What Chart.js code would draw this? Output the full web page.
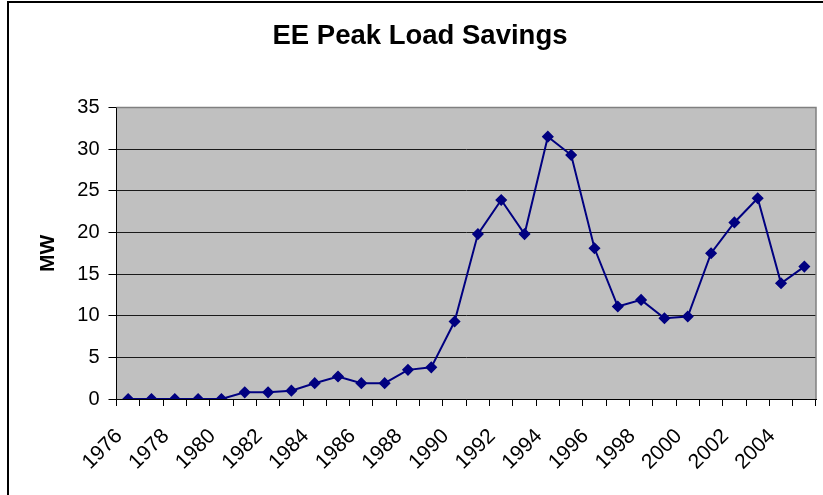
<!DOCTYPE html>
<html>
<head>
<meta charset="utf-8">
<script src="https://cdn.jsdelivr.net/npm/chart.js@4.4.0/dist/chart.umd.min.js"></script>
<style>
  html, body { margin: 0; padding: 0; background: #fff; overflow: hidden; }
  #frame { position: absolute; left: 7px; top: 1px; width: 900px; height: 600px;
           border-left: 2px solid #000; border-top: 2px solid #000; }
  #wrap { position: absolute; left: 0; top: 0; width: 823px; height: 495px; }
</style>
</head>
<body>
<div id="frame"></div>
<div id="wrap"><canvas id="c" width="823" height="495"></canvas></div>
<script>
const years = ['1976','1977','1978','1979','1980','1981','1982','1983','1984','1985',
               '1986','1987','1988','1989','1990','1991','1992','1993','1994','1995',
               '1996','1997','1998','1999','2000','2001','2002','2003','2004','2005'];
const peakSavingsMW = [0, 0, 0, 0, 0, 0.8, 0.8, 1.0, 1.9, 2.7,
                       1.9, 1.9, 3.5, 3.8, 9.3, 19.8, 23.9, 19.8, 31.5, 29.3,
                       18.1, 11.1, 11.9, 9.7, 9.9, 17.5, 21.2, 24.1, 13.9, 15.9];
const xTickLabels = ['1976','','1978','','1980','','1982','','1984','',
                     '1986','','1988','','1990','','1992','','1994','',
                     '1996','','1998','','2000','','2002','','2004',''];
const yTicks = [0, 5, 10, 15, 20, 25, 30, 35];
const chartTitle = 'EE Peak Load Savings';
const yTitle = 'MW';

const plotArea = {
  id: 'plotArea',
  beforeDraw(chart) {
    const { ctx, chartArea: a } = chart;
    ctx.save();
    ctx.fillStyle = '#C0C0C0';
    ctx.fillRect(a.left, a.top, a.right - a.left, a.bottom - a.top);
    ctx.restore();
  },
  afterDraw(chart) {
    const { ctx, chartArea: a } = chart;
    ctx.save();
    ctx.strokeStyle = '#808080';
    ctx.lineWidth = 1.5;
    ctx.beginPath();
    ctx.moveTo(a.left, a.top);
    ctx.lineTo(a.right, a.top);
    ctx.lineTo(a.right, a.bottom);
    ctx.stroke();
    ctx.restore();
  }
};

const FONT = 'Arial, "Liberation Sans", sans-serif';

new Chart(document.getElementById('c'), {
  type: 'line',
  data: {
    labels: years,
    datasets: [{
      data: peakSavingsMW,
      borderColor: '#000080',
      backgroundColor: '#000080',
      borderWidth: 2,
      pointStyle: 'rectRot',
      pointRadius: 5,
      pointBorderWidth: 1.5,
      pointBackgroundColor: '#000080',
      pointBorderColor: '#000080',
      tension: 0,
      fill: false
    }]
  },
  options: {
    responsive: false,
    animation: false,
    devicePixelRatio: 1,
    layout: { padding: { left: 24, right: 7, top: 0, bottom: 0 } },
    plugins: {
      legend: { display: false },
      tooltip: { enabled: false },
      title: {
        display: true,
        text: chartTitle,
        color: '#000',
        font: { family: FONT, size: 27.5, weight: 'bold', lineHeight: 1.2 },
        padding: { top: 20, bottom: 54.5 }
      }
    },
    scales: {
      x: {
        type: 'category',
        offset: true,
        grid: {
          offset: true,
          drawOnChartArea: false,
          drawTicks: true,
          tickLength: 7,
          tickColor: '#000'
        },
        border: { display: true, color: '#000', width: 1 },
        ticks: {
          autoSkip: false,
          minRotation: 45,
          maxRotation: 45,
          color: '#000',
          padding: 18,
          labelOffset: -9,
          font: { family: FONT, size: 21 },
          callback: (v, i) => xTickLabels[i]
        },
        afterFit(scale) {
          scale.height = 96;
          scale.paddingLeft = 0;
          scale.paddingRight = 0;
        }
      },
      y: {
        min: 0,
        max: 35,
        afterBuildTicks(scale) { scale.ticks = yTicks.map(v => ({ value: v })); },
        grid: {
          color: (c) => (c.tick && c.tick.value === 35) ? 'rgba(0,0,0,0)' : '#1a1a1a',
          lineWidth: 1,
          drawTicks: true,
          tickLength: 8,
          tickColor: '#000'
        },
        border: { display: true, color: '#000', width: 1 },
        ticks: {
          color: '#000',
          padding: 9,
          font: { family: FONT, size: 20 }
        },
        title: {
          display: true,
          text: yTitle,
          color: '#000',
          font: { family: FONT, size: 21, weight: 'bold', lineHeight: 1.2 },
          padding: { top: 12, bottom: 0 }
        },
        afterFit(scale) { scale.width = 92.5; }
      }
    }
  },
  plugins: [plotArea]
});
</script>
</body>
</html>
